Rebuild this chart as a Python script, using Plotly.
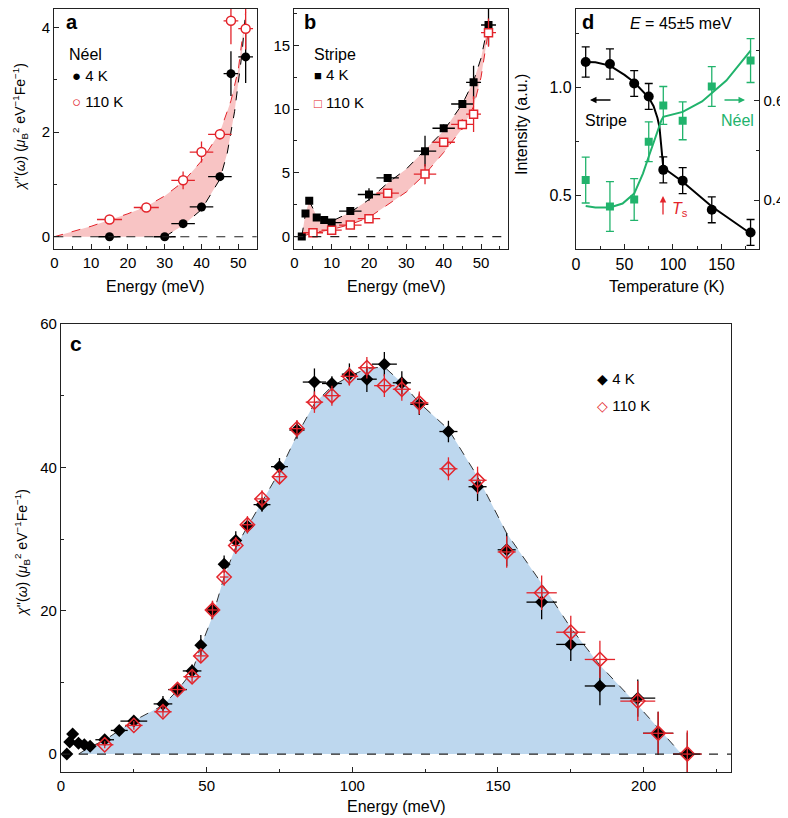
import plotly.graph_objects as go

# the page body adds an 8 px margin, so the figure is 8 px smaller than the window
OFF = 8
W, H = 788 - OFF, 818 - OFF
FONT = "Liberation Sans, Arial, sans-serif"
RED = "#e3242b"
GREEN = "#21b36c"
PINK = "#f8c4c4"
BLUE = "#bdd7ee"

# ---------------- panel a : Neel ----------------
a_E_4K = [15, 30, 35, 40, 45, 48, 52]
a_chi_4K = [0, 0, 0.25, 0.57, 1.15, 3.12, 3.44]
a_dE_4K = [3, 3, 3.2, 3.2, 3.2, 2, 2]
a_dchi_4K = [0.03, 0.03, 0.05, 0.08, 0.08, 0.43, 0.5]
a_E_110K = [15, 25, 35, 40, 45, 48, 52]
a_chi_110K = [0.33, 0.56, 1.08, 1.62, 1.96, 4.13, 3.98]
a_dE_110K = [3.4, 3.4, 3.2, 3.2, 3.2, 2, 2]
a_dchi_110K = [0.04, 0.06, 0.17, 0.2, 0.1, 0.45, 0.4]
a_up_E = [0, 5, 10, 15, 20, 25, 30, 35, 40, 45, 48, 50, 52]
a_up = [0, 0.1, 0.2, 0.32, 0.44, 0.58, 0.78, 1.05, 1.45, 2.0, 2.6, 3.2, 4.3]
a_lo_E = [30, 35, 40, 45, 47, 49, 51, 52]
a_lo = [0, 0.22, 0.52, 1.1, 1.6, 2.4, 3.5, 4.3]

# ---------------- panel b : Stripe ----------------
b_E_4K = [2, 3, 4, 6, 8, 10, 15, 20, 25, 35, 40, 45, 48, 52]
b_chi_4K = [0, 1.8, 2.8, 1.5, 1.3, 1.1, 2.0, 3.3, 4.6, 6.7, 8.5, 10.4, 12.1, 16.6]
b_dE_4K = [0, 0, 0, 0, 0, 2.7, 3, 3, 3, 3, 3, 3, 2, 2]
b_dchi_4K = [0.1, 0.2, 0.2, 0.15, 0.15, 0.15, 0.2, 0.5, 0.3, 1.2, 0.3, 0.3, 1.3, 1.6]
b_E_110K = [5, 10, 15, 20, 25, 35, 40, 45, 48, 52]
b_chi_110K = [0.3, 0.5, 0.9, 1.4, 3.4, 4.9, 7.4, 8.8, 9.6, 16.0]
b_dE_110K = [2.7, 2.7, 3, 3, 3, 3, 3, 3, 2, 2]
b_dchi_110K = [0.1, 0.1, 0.1, 0.15, 0.2, 0.8, 0.2, 0.4, 1.4, 1.1]
b_up_E = [2, 3, 4, 6, 8, 10, 15, 20, 25, 30, 35, 40, 45, 48, 50, 52]
b_up = [0, 1.8, 2.8, 1.6, 1.3, 1.2, 1.9, 2.9, 4.2, 5.3, 6.8, 8.3, 10.4, 12.2, 14.0, 16.8]
b_lo_E = [2, 5, 10, 15, 20, 25, 30, 35, 40, 45, 48, 50, 52]
b_lo = [0, 0.3, 0.55, 0.95, 1.5, 2.5, 3.5, 4.9, 6.6, 8.5, 10.2, 12.5, 16.2]

# ---------------- panel c : total ----------------
c_E_4K = [2, 3, 4, 6, 8, 10, 15, 20, 25, 35, 40, 45, 48, 52, 56, 60, 64, 69, 75, 81,
          87, 93, 99, 105, 111, 117, 123, 133, 143, 153, 165, 175, 185, 198, 205, 215]
c_chi_4K = [0, 1.7, 2.8, 1.5, 1.3, 1.1, 2.0, 3.3, 4.6, 7.0, 9.0, 11.6, 15.2, 20.1, 26.5,
            29.8, 31.8, 34.8, 40.1, 45.2, 51.9, 51.7, 53.0, 52.3, 54.4, 51.8, 48.8, 45.0,
            37.3, 28.5, 21.2, 15.3, 9.5, 7.8, 2.9, 0]
c_dE_4K = [0, 0, 0, 0, 0, 0, 3.2, 2.9, 4.6, 3.2, 3.2, 3.2, 0.5, 2, 1, 1.4, 1.7, 2.9, 2.9, 2.6,
           4, 3.4, 2.6, 3.4, 4.3, 3.1, 3.1, 3.1, 3.1, 3.1, 5.2, 5, 5.2, 6, 5.2, 4.9]
c_dchi_4K = [0.3, 0.3, 0.3, 0.3, 0.3, 0.3, 0.5, 0.4, 0.6, 1.1, 0.6, 0.9, 1.4, 1.2, 1.2, 1.3,
             1.0, 1.0, 1.2, 1.2, 1.9, 1.0, 1.5, 1.8, 1.7, 1.6, 1.5, 1.5, 2.0, 2.3, 2.4, 2.3,
             2.7, 2.6, 3.0, 3.0]
c_E_110K = [15, 25, 35, 40, 45, 48, 52, 56, 60, 64, 69, 75, 81, 87, 93, 99, 105, 111, 117,
            123, 133, 143, 153, 165, 175, 185, 198, 205, 215]
c_chi_110K = [1.3, 4.0, 5.9, 9.0, 10.8, 13.7, 20.1, 24.7, 29.1, 32.0, 35.6, 38.7, 45.4, 49.1,
              50.0, 52.7, 53.9, 51.4, 50.9, 49.0, 39.8, 38.2, 28.2, 22.5, 17.0, 13.2, 7.4, 2.9, 0]
c_dE_110K = [3, 3, 3, 3, 3, 2, 2, 1.5, 1.5, 2, 2.5, 2.5, 2.5, 3, 3, 3, 3, 3.5, 3.1, 3.1, 3.1,
             3.1, 3.1, 5.2, 5, 5.2, 6, 5.2, 4.9]
c_dchi_110K = [0.5, 0.6, 0.8, 0.7, 0.8, 1.0, 1.3, 1.2, 1.2, 1.2, 1.2, 1.0, 1.2, 1.5, 1.4, 1.3,
               1.5, 1.6, 1.6, 1.6, 1.6, 1.9, 2.2, 2.4, 2.3, 2.6, 2.8, 3.0, 3.3]
c_fit_E = [6, 10, 15, 25, 35, 40, 45, 48, 52, 56, 60, 64, 69, 75, 81, 87, 93, 99, 105, 111,
           117, 123, 133, 143, 153, 165, 175, 185, 198, 205, 213]
c_fit = [0, 1.0, 1.95, 4.65, 6.8, 8.9, 11.5, 15.0, 19.2, 24.7, 28.9, 31.7, 35.0, 39.4, 44.5,
         48.9, 51.3, 52.7, 53.8, 54.0, 51.8, 49.0, 45.3, 38.7, 30.8, 23.8, 17.6, 12.4, 6.8, 3.6, 0]

# ---------------- panel d : temperature ----------------
d_T = [10, 35, 60, 75, 90, 110, 140, 180]
d_stripe = [1.12, 1.11, 1.02, 0.96, 0.62, 0.57, 0.435, 0.33]
d_stripe_err = [0.07, 0.07, 0.06, 0.06, 0.06, 0.06, 0.06, 0.06]
d_neel = [0.44, 0.387, 0.401, 0.517, 0.59, 0.559, 0.628, 0.68]
d_neel_err = [0.046, 0.05, 0.042, 0.04, 0.038, 0.038, 0.04, 0.044]
d_sfit_T = [10, 20, 35, 50, 60, 70, 75, 80, 84, 86, 88, 89, 90, 110, 140, 180]
d_sfit = [1.12, 1.118, 1.103, 1.06, 1.026, 0.98, 0.955, 0.915, 0.86, 0.82, 0.74, 0.68, 0.63,
          0.565, 0.45, 0.325]
d_nfit_T = [10, 20, 35, 48, 60, 69, 76, 83, 88, 90, 110, 130, 155, 180]
d_nfit = [0.388, 0.385, 0.385, 0.393, 0.413, 0.453, 0.493, 0.533, 0.56, 0.567, 0.577, 0.598,
          0.64, 0.70]


def px(x):
    return (x - OFF) / W


def py(y):
    return 1 - (y - OFF) / H


def ebar(arr, color, width=0):
    return dict(type="data", array=arr, color=color, thickness=1.3, width=width)


fig = go.Figure()

# ---- a
fig.add_trace(go.Scatter(x=a_up_E + a_lo_E[::-1] + [0], y=a_up + a_lo[::-1] + [0],
                         fill="toself", fillcolor=PINK, line=dict(width=0), mode="lines",
                         xaxis="x", yaxis="y", hoverinfo="skip"))
fig.add_trace(go.Scatter(x=a_up_E, y=a_up, mode="lines", line=dict(color=RED, width=1, dash="dash"),
                         xaxis="x", yaxis="y"))
fig.add_trace(go.Scatter(x=a_lo_E, y=a_lo, mode="lines", line=dict(color="black", width=1, dash="dash"),
                         xaxis="x", yaxis="y"))
fig.add_trace(go.Scatter(x=a_E_4K, y=a_chi_4K, mode="markers", xaxis="x", yaxis="y",
                         marker=dict(symbol="circle", size=9, color="black"),
                         error_x=ebar(a_dE_4K, "black"), error_y=ebar(a_dchi_4K, "black")))
fig.add_trace(go.Scatter(x=a_E_110K, y=a_chi_110K, mode="markers", xaxis="x", yaxis="y",
                         marker=dict(symbol="circle", size=9, color="white", line=dict(color=RED, width=1.5)),
                         error_x=ebar(a_dE_110K, RED), error_y=ebar(a_dchi_110K, RED)))

# ---- b
fig.add_trace(go.Scatter(x=b_up_E + b_lo_E[::-1], y=b_up + b_lo[::-1],
                         fill="toself", fillcolor=PINK, line=dict(width=0), mode="lines",
                         xaxis="x2", yaxis="y2", hoverinfo="skip"))
fig.add_trace(go.Scatter(x=b_up_E, y=b_up, mode="lines", line=dict(color="black", width=1, dash="dash"),
                         xaxis="x2", yaxis="y2"))
fig.add_trace(go.Scatter(x=b_lo_E, y=b_lo, mode="lines", line=dict(color=RED, width=1, dash="dash"),
                         xaxis="x2", yaxis="y2"))
fig.add_trace(go.Scatter(x=b_E_4K, y=b_chi_4K, mode="markers", xaxis="x2", yaxis="y2",
                         marker=dict(symbol="square", size=8, color="black"),
                         error_x=ebar(b_dE_4K, "black"), error_y=ebar(b_dchi_4K, "black")))
fig.add_trace(go.Scatter(x=b_E_110K, y=b_chi_110K, mode="markers", xaxis="x2", yaxis="y2",
                         marker=dict(symbol="square", size=8, color="white", line=dict(color=RED, width=1.5)),
                         error_x=ebar(b_dE_110K, RED), error_y=ebar(b_dchi_110K, RED)))

# ---- c
fig.add_trace(go.Scatter(x=c_fit_E, y=c_fit, mode="lines", fill="tozeroy", fillcolor=BLUE,
                         line=dict(color="#333333", width=1, dash="dash"), xaxis="x3", yaxis="y3"))
fig.add_trace(go.Scatter(x=c_E_4K, y=c_chi_4K, mode="markers", xaxis="x3", yaxis="y3",
                         marker=dict(symbol="diamond", size=10, color="black"),
                         error_x=ebar(c_dE_4K, "black"), error_y=ebar(c_dchi_4K, "black")))
fig.add_trace(go.Scatter(x=c_E_110K, y=c_chi_110K, mode="markers", xaxis="x3", yaxis="y3",
                         marker=dict(symbol="diamond-open", size=11, color=RED, line=dict(width=1.5)),
                         error_x=ebar(c_dE_110K, RED), error_y=ebar(c_dchi_110K, RED)))

# ---- d
fig.add_trace(go.Scatter(x=d_sfit_T, y=d_sfit, mode="lines", line=dict(color="black", width=2),
                         xaxis="x4", yaxis="y4"))
fig.add_trace(go.Scatter(x=d_T, y=d_stripe, mode="markers", xaxis="x4", yaxis="y4",
                         marker=dict(symbol="circle", size=10, color="black"),
                         error_y=ebar(d_stripe_err, "black", 4)))
fig.add_trace(go.Scatter(x=d_nfit_T, y=d_nfit, mode="lines", line=dict(color=GREEN, width=2),
                         xaxis="x4", yaxis="y5"))
fig.add_trace(go.Scatter(x=d_T, y=d_neel, mode="markers", xaxis="x4", yaxis="y5",
                         marker=dict(symbol="square", size=8, color=GREEN),
                         error_y=ebar(d_neel_err, GREEN, 4)))


def ax(domain, rng, dtick, minor, anchor, size=15, **kw):
    d = dict(domain=domain, range=rng, dtick=dtick, tick0=0, anchor=anchor,
             showline=True, linecolor="#222", linewidth=1.2, mirror=True,
             ticks="inside", ticklen=5, tickwidth=1, tickcolor="#222",
             minor=dict(ticks="inside", dtick=minor, ticklen=3, tickcolor="#222"),
             showgrid=False, zeroline=False, automargin=False,
             tickfont=dict(family=FONT, size=size, color="black"))
    d.update(kw)
    return d


# top panels: reference frame starts at the page top, clipped here at y = OFF
ya_dom = [py(249.3), 0.999]
fig.update_layout(
    width=W, height=H, margin=dict(l=0, r=0, t=0, b=0, autoexpand=False),
    paper_bgcolor="white", plot_bgcolor="white", showlegend=False,
    font=dict(family=FONT, color="black"),
    xaxis=ax([px(54.3), px(256.7)], [0, 55], 10, 5, "y"),
    yaxis=ax(ya_dom, [-0.24, 4.36], 2, 1, "x"),
    xaxis2=ax([px(294.3), px(508.3)], [0, 57.3], 10, 5, "y2"),
    yaxis2=ax(ya_dom, [-1, 17.87], 5, 2.5, "x2"),
    xaxis3=ax([px(61), px(731)], [0, 230], 50, 25, "y3"),
    yaxis3=ax([py(772), py(324)], [-2.5, 60], 20, 10, "x3"),
    xaxis4=ax([px(576), px(759.3)], [0, 189], 50, 25, "y4", size=16),
    yaxis4=ax(ya_dom, [0.252, 1.366], 0.5, 0.25, "x4", size=16, tickformat=".1f", mirror=False),
    yaxis5=ax(ya_dom, [0.301, 0.784], 0.2, 0.1, "x4", size=15, tickformat=".1f",
              overlaying="y4", side="right", tickvals=[0.4, 0.6], mirror=False),
)

# zero lines
for xr, yr in [("x", "y"), ("x2", "y2"), ("x3", "y3")]:
    fig.add_shape(type="line", xref=xr + " domain", yref=yr, x0=0, x1=1, y0=0, y1=0,
                  line=dict(color="#222", width=1.2, dash="dash"))


def note(x, y, text, size=16, color="black", anchor="center", angle=0, **kw):
    fig.add_annotation(x=px(x), y=py(y), xref="paper", yref="paper", text=text,
                       showarrow=False, xanchor=anchor, yanchor="middle", textangle=angle,
                       font=dict(family=FONT, size=size, color=color), **kw)


YT = ("<i>χ</i>''(<i>ω</i>) (<i>μ</i><sub>B</sub><sup>2</sup> eV<sup>−1</sup>Fe<sup>−1</sup>)")

# panel letters
note(72, 22, "<b>a</b>", 20)
note(310, 22, "<b>b</b>", 20)
note(588, 22, "<b>d</b>", 20)
note(76, 343, "<b>c</b>", 21)

# axis titles
note(155, 286, "Energy (meV)")
note(396, 286, "Energy (meV)")
note(667, 286, "Temperature (K)")
note(396, 806, "Energy (meV)")
note(20, 127, YT, 14, angle=-90)
note(22, 553, YT, 14, angle=-90)
note(522, 125, "Intensity (a.u.)", 16, angle=-90)

# legends
note(67, 55, "Néel", 16, anchor="left")
note(70, 76, "●<span style='font-size:15px'> 4 K</span>", 15, anchor="left")
note(70, 102, f"<span style='color:{RED}'>○</span><span style='font-size:15px'> 110 K</span>", 15, anchor="left")
note(312, 55, "Stripe", 16, anchor="left")
note(312, 75, "■<span style='font-size:15px'> 4 K</span>", 13, anchor="left")
note(312, 103, f"<span style='color:{RED}'>□</span><span style='font-size:15px'> 110 K</span>", 13, anchor="left")
note(595, 378, "◆<span style='font-size:15px'> 4 K</span>", 14, anchor="left")
note(595, 405, f"<span style='color:{RED}'>◇</span><span style='font-size:15px'> 110 K</span>", 14, anchor="left")

# panel d notes
note(681, 24, "<i>E</i> = 45±5 meV", 16)
note(606, 120, "Stripe", 16)
note(737, 120, "Néel", 16, color=GREEN)
note(680, 210, "<i>T</i><sub>s</sub>", 16, color=RED)
for x0, y0, dx, dy, col in [(590, 100, 22, 0, "black"), (745, 100, -22, 0, GREEN), (663, 196, 0, 20, RED)]:
    fig.add_annotation(x=px(x0), y=py(y0), xref="paper", yref="paper", text="",
                       showarrow=True, ax=dx, ay=dy, arrowhead=2, arrowsize=1,
                       arrowwidth=1.3, arrowcolor=col)

fig.write_html("out.html")
